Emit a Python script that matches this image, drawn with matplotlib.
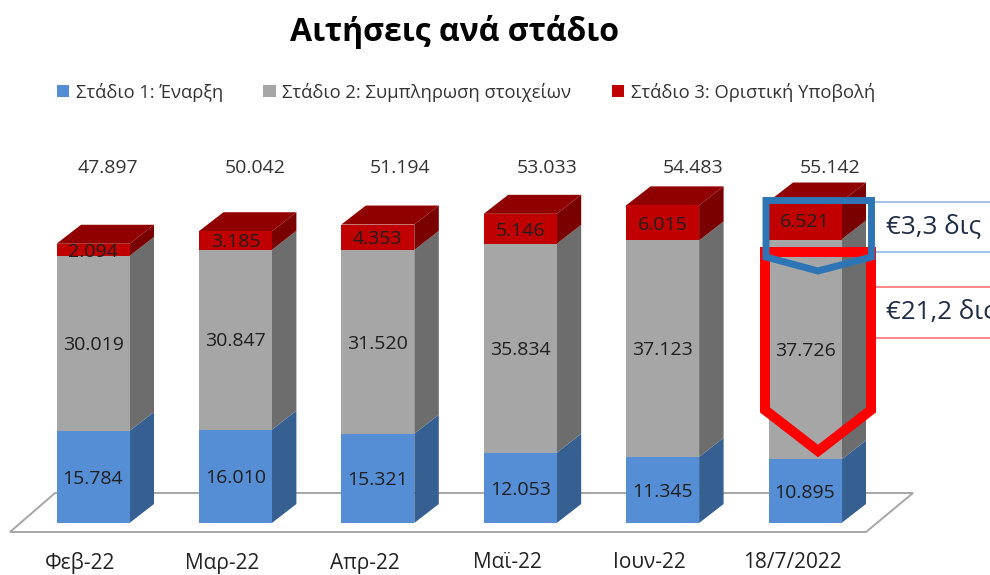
# Αιτήσεις ανά στάδιο - stacked 3D-looking bars
import matplotlib
matplotlib.use('Agg')
import matplotlib.pyplot as plt
from matplotlib.patches import Polygon
import numpy as np

plt.rcParams['font.family'] = ['Open Sans', 'DejaVu Sans']

months = ['Φεβ-22', 'Μαρ-22', 'Απρ-22', 'Μαϊ-22', 'Ιουν-22', '18/7/2022']
stage1 = [15784, 16010, 15321, 12053, 11345, 10895]
stage2 = [30019, 30847, 31520, 35834, 37123, 37726]
stage3 = [2094, 3185, 4353, 5146, 6015, 6521]
totals = [47897, 50042, 51194, 53033, 54483, 55142]
stage_names = ['Στάδιο 1: Έναρξη', 'Στάδιο 2: Συμπληρωση στοιχείων', 'Στάδιο 3: Οριστική Υποβολή']

front_cols = ['#558ed5', '#a6a6a6', '#c00000']
side_cols = ['#376092', '#6d6d6d', '#7a0000']
top_col = '#900000'

def fmt(v):
    return f'{v:,}'.replace(',', '.')

W, H = 990, 575
px_x = 142.4      # pixels per category
px_y = 0.00583    # pixels per application
x0_px, y0_px, axis_px = 93, 523, 540
bar_w = 73 / px_x
dx = 24.5 / px_x
dy = 19 / px_y

fig = plt.figure(figsize=(W / 100, H / 100), dpi=100, facecolor='white')
ax = fig.add_axes([0, 1 - axis_px / H, 1, axis_px / H])
ax.set_xlim(-x0_px / px_x, (W - x0_px) / px_x)
ax.set_ylim(-(axis_px - y0_px) / px_y, y0_px / px_y)
for s in ax.spines.values():
    s.set_visible(False)
ax.yaxis.set_visible(False)

# floor of the chart
to_x = lambda p: (p - x0_px) / px_x
to_y = lambda p: (y0_px - p) / px_y
ax.add_patch(Polygon([(to_x(10), to_y(532)), (to_x(866), to_y(532)), (to_x(913), to_y(493)), (to_x(55), to_y(493))],
                     closed=True, fc='white', ec='#a6a6a6', lw=1.4, zorder=0))

x = np.arange(len(months))
bottom = np.zeros(len(months))
handles = []
for vals, name, fc, sc in zip([stage1, stage2, stage3], stage_names, front_cols, side_cols):
    vals = np.array(vals)
    bars = ax.bar(x, vals, bar_w, bottom=bottom, color=fc, label=name, zorder=3)
    handles.append(bars)
    for i in x:
        xr = i + bar_w / 2
        b, t = bottom[i], bottom[i] + vals[i]
        ax.add_patch(Polygon([(xr, b), (xr + dx, b + dy), (xr + dx, t + dy), (xr, t)], closed=True, fc=sc, ec='none', zorder=2))
        ax.text(i, (b + t) / 2 - 300, fmt(vals[i]), ha='center', va='center', fontsize=14, color='#1f1f1f', zorder=4)
    bottom = bottom + vals

# roof of each bar
for i in x:
    xl, xr = i - bar_w / 2, i + bar_w / 2
    t = bottom[i]
    ax.add_patch(Polygon([(xl, t), (xr, t), (xr + dx, t + dy), (xl + dx, t + dy)], closed=True, fc=top_col, ec='none', zorder=2))

# totals sit in a row above the bars
total_shift = [15, 20, 22, 27, 30, 25]
for i, v in enumerate(totals):
    ax.text(i + total_shift[i] / px_x, to_y(168), fmt(v), ha='center', va='center', fontsize=14, color='#333333')

ax.set_xticks(x - 13 / px_x)
ax.set_xticklabels(months, fontsize=15, color='#222222')
ax.tick_params(axis='x', length=0, pad=9)

ax.legend(handles=handles, loc='center left', bbox_to_anchor=(57 / W, 1 - 92 / axis_px), ncol=3, frameon=False,
          fontsize=13.2, labelcolor='#333333', handlelength=0.68, handleheight=0.68, handletextpad=0.35,
          columnspacing=2.2, borderaxespad=0, borderpad=0)

fig.text(455 / W, 1 - 32 / H, 'Αιτήσεις ανά στάδιο', ha='center', va='center', fontsize=23, fontweight='bold', color='black')

# callouts drawn in pixel coordinates
ov = fig.add_axes([0, 0, 1, 1])
ov.set_xlim(0, W)
ov.set_ylim(H, 0)
ov.axis('off')
ov.patch.set_alpha(0)
ov.plot([875, W], [202, 202], color='#8db9e3', lw=1.2)
ov.plot([875, W], [252, 252], color='#8db9e3', lw=1.2)
ov.plot([875, W], [287, 287], color='#ff7070', lw=1.2)
ov.plot([875, W], [338, 338], color='#ff7070', lw=1.2)
ov.add_patch(Polygon([(765, 252), (871, 252), (871, 410), (818, 451), (765, 410)], closed=True, fc='none', ec='#ff0000', lw=7.2, joinstyle='miter', zorder=5))
ov.add_patch(Polygon([(766, 200.5), (871.5, 200.5), (871.5, 257), (818, 271), (766, 257)], closed=True, fc='none', ec='#2e75b6', lw=5, joinstyle='miter', zorder=6))
ov.text(886, 227, '€3,3 δις', ha='left', va='center', fontsize=18.7, color='#1f2d45', zorder=7)
ov.text(886, 312, '€21,2 δις', ha='left', va='center', fontsize=18.7, color='#1f2d45', zorder=7, clip_on=True)

fig.savefig('out.png', dpi=100)
